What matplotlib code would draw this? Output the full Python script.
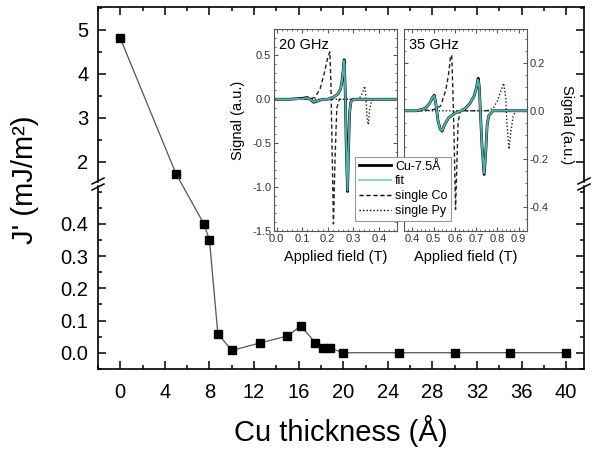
import matplotlib
matplotlib.use('Agg')
import matplotlib.pyplot as plt
from matplotlib.patches import ConnectionPatch
from matplotlib.lines import Line2D
from matplotlib.ticker import MultipleLocator, FixedLocator

plt.rcParams['font.family'] = ['Liberation Sans', 'DejaVu Sans']
plt.rcParams['axes.unicode_minus'] = False

# main curve: interlayer coupling vs Cu spacer thickness
cu_thick = [0, 5, 7.5, 8, 8.75, 10, 12.5, 15, 16.2, 17.5, 18.2, 18.8, 20, 25, 30, 35, 40]
j_coupling = [4.81, 1.73, 0.40, 0.35, 0.059, 0.007, 0.030, 0.052, 0.083, 0.031,
              0.016, 0.014, 0.0, 0.0, 0.0, 0.0, 0.0]
n_upper = 2  # points drawn above the axis break
lower_ticks = [0.0, 0.1, 0.2, 0.3, 0.4]

# inset spectra, 20 GHz
f20_cu = [0.00, 0.05, 0.10, 0.12, 0.135, 0.145, 0.16, 0.18, 0.20, 0.22, 0.24, 0.25, 0.255,
          0.26, 0.264, 0.268, 0.272, 0.277, 0.281, 0.285, 0.29, 0.30, 0.35, 0.40, 0.47]
s20_cu = [0.00, 0.00, 0.01, 0.02, -0.01, -0.035, -0.02, 0.00, 0.00, 0.02, 0.06, 0.12, 0.20,
          0.33, 0.45, 0.10, -0.55, -1.05, -0.55, -0.15, -0.03, 0.00, 0.00, 0.00, 0.00]
f20_fit = [0.00, 0.05, 0.10, 0.12, 0.135, 0.145, 0.16, 0.18, 0.20, 0.22, 0.24, 0.25, 0.255,
           0.26, 0.264, 0.268, 0.272, 0.277, 0.281, 0.285, 0.29, 0.30, 0.35, 0.40, 0.47]
s20_fit = [0.00, 0.00, 0.005, 0.015, -0.01, -0.03, -0.02, 0.00, 0.00, 0.02, 0.06, 0.12, 0.20,
           0.33, 0.44, 0.10, -0.55, -1.04, -0.55, -0.15, -0.03, 0.00, 0.00, 0.00, 0.00]
f20_co = [0.00, 0.12, 0.15, 0.17, 0.185, 0.20, 0.208, 0.212, 0.217, 0.222, 0.228, 0.235, 0.245, 0.47]
s20_co = [0.00, 0.00, 0.02, 0.12, 0.28, 0.48, 0.54, 0.20, -0.60, -1.42, -0.70, -0.10, 0.00, 0.00]
f20_py = [0.00, 0.31, 0.325, 0.335, 0.344, 0.349, 0.353, 0.358, 0.363, 0.37, 0.38, 0.47]
s20_py = [0.00, 0.00, 0.02, 0.07, 0.15, 0.02, -0.20, -0.29, -0.12, -0.02, 0.00, 0.00]

# inset spectra, 35 GHz
f35_cu = [0.36, 0.42, 0.46, 0.48, 0.495, 0.503, 0.51, 0.52, 0.53, 0.54, 0.55, 0.57, 0.60,
          0.63, 0.65, 0.67, 0.69, 0.70, 0.71, 0.715, 0.72, 0.728, 0.738, 0.745, 0.752,
          0.76, 0.78, 0.94]
s35_cu = [0.00, 0.00, 0.01, 0.03, 0.055, 0.065, 0.03, -0.04, -0.075, -0.085, -0.06, -0.03,
          -0.01, 0.00, 0.01, 0.03, 0.06, 0.09, 0.135, 0.10, 0.00, -0.15, -0.265, -0.18,
          -0.06, -0.02, 0.00, 0.00]
f35_fit = f35_cu
s35_fit = [0.00, 0.00, 0.01, 0.03, 0.055, 0.063, 0.03, -0.04, -0.075, -0.083, -0.06, -0.03,
           -0.01, 0.00, 0.01, 0.03, 0.06, 0.09, 0.13, 0.10, 0.00, -0.15, -0.26, -0.18,
           -0.06, -0.02, 0.00, 0.00]
f35_co = [0.36, 0.45, 0.50, 0.533, 0.557, 0.57, 0.58, 0.585, 0.59, 0.596, 0.603, 0.61, 0.615, 0.625, 0.94]
s35_co = [0.00, 0.00, 0.005, 0.02, 0.085, 0.15, 0.23, 0.23, 0.10, -0.10, -0.41, -0.20, -0.05, 0.00, 0.00]
f35_py = [0.36, 0.75, 0.78, 0.80, 0.82, 0.83, 0.84, 0.845, 0.855, 0.865, 0.875, 0.89, 0.94]
s35_py = [0.00, 0.00, 0.01, 0.04, 0.09, 0.115, 0.05, -0.05, -0.16, -0.08, -0.02, 0.00, 0.00]

W, H = 592, 449
fig = plt.figure(figsize=(W / 100, H / 100), dpi=100)

def box(x0, y0, x1, y1):
    # pixel box (top-left origin) -> figure fraction rect
    return [x0 / W, 1 - y1 / H, (x1 - x0) / W, (y1 - y0) / H]

ax_top = fig.add_axes(box(98, 7, 584, 182))
ax_bot = fig.add_axes(box(98, 186, 584, 369))

for ax in (ax_top, ax_bot):
    ax.set_xlim(-2, 41.6)
    ax.xaxis.set_major_locator(MultipleLocator(4))
    ax.xaxis.set_minor_locator(MultipleLocator(2))
    for s in ax.spines.values():
        s.set_linewidth(1.2)
    ax.tick_params(which='both', direction='in', left=True, right=True, labelsize=14.5,
                   width=1.1)
    ax.tick_params(which='major', length=5.5, pad=7)
    ax.tick_params(which='minor', length=3)

ax_top.set_ylim(1.545, 5.52)
ax_top.yaxis.set_major_locator(MultipleLocator(1))
ax_top.yaxis.set_minor_locator(MultipleLocator(0.5))
ax_top.spines['bottom'].set_visible(False)
ax_top.tick_params(which='both', bottom=False, top=True, labelbottom=False)

ax_bot.set_ylim(-0.0506, 0.5177)
ax_bot.yaxis.set_major_locator(FixedLocator(lower_ticks))
ax_bot.yaxis.set_minor_locator(MultipleLocator(0.05))
ax_bot.yaxis.set_major_formatter(plt.FormatStrFormatter('%.1f'))
ax_bot.spines['top'].set_visible(False)
ax_bot.tick_params(which='both', top=False, bottom=True)
ax_bot.tick_params(axis='x', which='major', pad=10)

line_kw = dict(color='#555555', lw=0.9, marker='s', ms=5.8, mfc='black', mec='black')
ax_top.plot(cu_thick[:n_upper], j_coupling[:n_upper], **line_kw)
ax_bot.plot(cu_thick[n_upper:], j_coupling[n_upper:], **line_kw)
con = ConnectionPatch(xyA=(cu_thick[n_upper - 1], j_coupling[n_upper - 1]), coordsA=ax_top.transData,
                      xyB=(cu_thick[n_upper], j_coupling[n_upper]), coordsB=ax_bot.transData,
                      color='#555555', lw=0.9, shrinkA=3.2, shrinkB=3.2)
fig.add_artist(con)

# break marks on both spines
for xs in (98, 584):
    for yb in (181, 187):
        fig.add_artist(Line2D([(xs - 6) / W, (xs + 6) / W], [1 - (yb + 3) / H, 1 - (yb - 3) / H],
                              color='black', lw=1.1))

ax_bot.set_xlabel('Cu thickness (Å)', fontsize=21, va='center', ha='center')
ax_bot.xaxis.set_label_coords(0.5, -0.337)
fig.text(25 / W, 1 - 180 / H, "J' (mJ/m²)", fontsize=21, rotation=90, ha='center', va='center')

# insets
ins1 = fig.add_axes(box(274, 29, 397, 231))
ins2 = fig.add_axes(box(404, 29, 527, 231))

fit_color = '#4fb3aa'
for ax in (ins1, ins2):
    for s in ax.spines.values():
        s.set_color('#555555')
        s.set_linewidth(0.8)
    ax.tick_params(which='both', direction='in', top=True, bottom=True, left=True, right=True,
                   labelsize=8, colors='#555555', labelcolor='#333333', pad=2)
    ax.tick_params(which='major', length=3)
    ax.tick_params(which='minor', length=1.5)
    ax.xaxis.set_major_locator(MultipleLocator(0.1))
    ax.xaxis.set_minor_locator(MultipleLocator(0.02))
    ax.xaxis.set_major_formatter(plt.FormatStrFormatter('%.1f'))
    ax.yaxis.set_major_formatter(plt.FormatStrFormatter('%.1f'))
    ax.set_xlabel('Applied field (T)', fontsize=10.5, va='center', ha='center')
    ax.xaxis.set_label_coords(0.5, -0.127)

ins1.plot(f20_co, s20_co, color='#222222', lw=1.0, ls=(0, (3, 2)))
ins1.plot(f20_py, s20_py, color='#222222', lw=1.0, ls=(0, (1, 1.5)))
ins1.plot(f20_cu, s20_cu, color='black', lw=2.0)
ins1.plot(f20_fit, s20_fit, color=fit_color, lw=1.4)
ins1.set_xlim(-0.01, 0.47)
ins1.set_ylim(-1.5, 0.8)
ins1.yaxis.set_major_locator(MultipleLocator(0.5))
ins1.yaxis.set_minor_locator(MultipleLocator(0.1))
ins1.set_ylabel('Signal (a.u.)', fontsize=10.5, va='center', ha='center')
ins1.yaxis.set_label_coords(-0.29, 0.55)
ins1.text(0.04, 0.955, '20 GHz', transform=ins1.transAxes, fontsize=10.5, va='top', ha='left')

ins2.plot(f35_co, s35_co, color='#222222', lw=1.0, ls=(0, (3, 2)))
ins2.plot(f35_py, s35_py, color='#222222', lw=1.0, ls=(0, (1, 1.5)))
ins2.plot(f35_cu, s35_cu, color='black', lw=2.0)
ins2.plot(f35_fit, s35_fit, color=fit_color, lw=1.4)
ins2.set_xlim(0.36, 0.94)
ins2.set_ylim(-0.5, 0.34)
ins2.yaxis.set_major_locator(MultipleLocator(0.2))
ins2.yaxis.set_minor_locator(MultipleLocator(0.05))
ins2.tick_params(labelleft=False, labelright=True)
ins2.yaxis.set_label_position('right')
ins2.set_ylabel('Signal (a.u.)', fontsize=10.5, rotation=270, va='center', ha='center')
ins2.yaxis.set_label_coords(1.325, 0.525)
ins2.text(0.04, 0.955, '35 GHz', transform=ins2.transAxes, fontsize=10.5, va='top', ha='left')

handles = [Line2D([], [], color='black', lw=2.0),
           Line2D([], [], color='#8fd8d2', lw=1.5),
           Line2D([], [], color='black', lw=1.0, ls=(0, (3, 2))),
           Line2D([], [], color='black', lw=1.0, ls=(0, (1, 1.5)))]
leg = fig.legend(handles, ['Cu-7.5Å', 'fit', 'single Co', 'single Py'],
                 loc='upper left', bbox_to_anchor=(355 / W, 1 - 157 / H), fontsize=9,
                 frameon=True, fancybox=False, edgecolor='#999999', framealpha=1,
                 handlelength=2.6, handletextpad=0.3, labelspacing=0.22, borderpad=0.3,
                 borderaxespad=0)
leg.get_frame().set_linewidth(0.8)

fig.savefig('out.png', dpi=100)
